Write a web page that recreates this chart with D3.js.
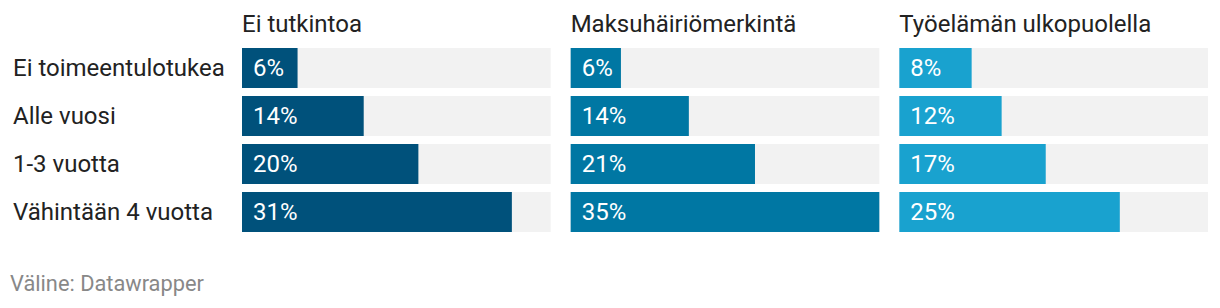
<!DOCTYPE html>
<html>
<head>
<meta charset="utf-8">
<script src="https://cdn.jsdelivr.net/npm/d3@7"></script>
<style>
  body { margin: 0; background: #fff; }
  text { font-family: Roboto, "Noto Sans", sans-serif; }
</style>
</head>
<body>
<svg id="chart" width="1220" height="308"></svg>
<script>
'use strict';

/******************************** data ********************************/

var rows = ["Ei toimeentulotukea", "Alle vuosi", "1-3 vuotta", "Vähintään 4 vuotta"];
var panels = ["Ei tutkintoa", "Maksuhäiriömerkintä", "Työelämän ulkopuolella"];
var panelColors = ["#00517b", "#0077a3", "#19a2cf"];

var eiTutkintoa = [6.3, 13.8, 20, 30.6];
var maksuhairio = [5.7, 13.4, 20.9, 35];
var tyoelaman = [8.2, 11.6, 16.6, 25];
var labels = [
  ["6%", "14%", "20%", "31%"],
  ["6%", "14%", "21%", "35%"],
  ["8%", "12%", "17%", "25%"]
];
var series = [eiTutkintoa, maksuhairio, tyoelaman];

/****************************** layout ********************************/

var svg = d3.select("#chart");
var left = 242, right = 1208, gap = 20;
var panelW = (right - left - 2 * gap) / 3;

var step = 48, barH = 40, topY = 48;
var y = d3.scaleBand().domain(rows)
  .range([topY, topY + rows.length * step - (step - barH)])
  .paddingInner((step - barH) / step).paddingOuter(0);
var maxVal = d3.max(series, function(s) { return d3.max(s); });

// row labels
svg.append("g").selectAll("text")
  .data(rows)
  .enter().append("text")
  .attr("x", 13)
  .attr("y", function(d) { return y(d) + y.bandwidth() / 2; })
  .attr("dy", "0.35em")
  .attr("font-size", 24)
  .attr("fill", "#222")
  .text(function(d) { return d; });

panels.forEach(function(title, p) {
  var x0 = left + p * (panelW + gap);
  var x = d3.scaleLinear().domain([0, maxVal]).range([0, panelW]);
  var g = svg.append("g").attr("transform", "translate(" + x0 + ",0)");

  g.append("text")
    .attr("x", 0).attr("y", 32)
    .attr("font-size", 24)
    .attr("fill", "#222")
    .text(title);

  var row = g.selectAll("g.row")
    .data(series[p])
    .enter().append("g")
    .attr("class", "row")
    .attr("transform", function(d, i) { return "translate(0," + y(rows[i]) + ")"; });

  row.append("rect")
    .attr("width", x(maxVal)).attr("height", y.bandwidth())
    .attr("fill", "#f2f2f2");

  row.append("rect")
    .attr("width", function(d) { return x(d); }).attr("height", y.bandwidth())
    .attr("fill", panelColors[p]);

  row.append("text")
    .attr("x", 11).attr("y", y.bandwidth() / 2)
    .attr("dy", "0.35em")
    .attr("font-size", 24)
    .attr("fill", "#fff")
    .text(function(d, i) { return labels[p][i]; });
});

svg.append("text")
  .attr("x", 10).attr("y", 291)
  .attr("font-size", 21.8)
  .attr("fill", "#888")
  .text("Väline: Datawrapper");
</script>
</body>
</html>
